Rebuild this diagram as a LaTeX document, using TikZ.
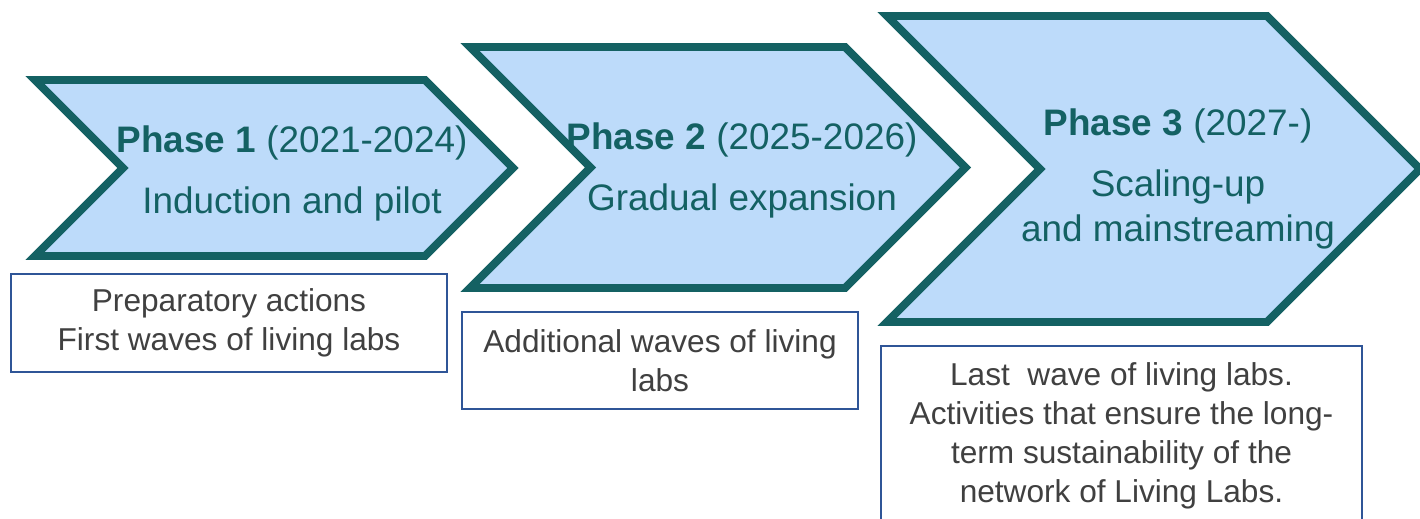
\documentclass[tikz,border=0pt]{standalone}
\usepackage{fontspec}
\setmainfont{Liberation Sans}
\usepackage{xcolor}
\usepackage{tikz}
\usetikzlibrary{positioning,calc}

\definecolor{phaseteal}{RGB}{20,97,99}
\definecolor{phasefill}{RGB}{189,219,250}
\definecolor{boxblue}{RGB}{47,85,151}
\definecolor{boxtext}{RGB}{64,64,64}

\begin{document}
\begin{tikzpicture}[
    x=0.02cm, y=-0.02cm,
    chevron/.style={draw=phaseteal, fill=phasefill, line width=4.5pt, line join=miter},
    phasetext/.style={text=phaseteal, align=center, inner sep=0pt, font=\fontsize{21}{25.6}\selectfont},
    actbox/.style={rectangle, draw=boxblue, line width=1.1pt, fill=white, align=center, text=boxtext, inner sep=2pt, font=\fontsize{18}{22.2}\selectfont}
]
\clip (0,0) rectangle (1420,518);

% phase chevrons
\draw[chevron] (35,80) -- (425,80) -- (513,168) -- (425,256) -- (35,256) -- (123,168) -- cycle;
\draw[chevron] (470,47) -- (845,47) -- (965.5,167.5) -- (845,288) -- (470,288) -- (590.5,167.5) -- cycle;
\draw[chevron] (887,16) -- (1267,16) -- (1420,169) -- (1267,322) -- (887,322) -- (1040,169) -- cycle;

\node[phasetext] (phase1) at (292,173.5) {\textbf{Phase 1} (2021-2024)\\[9pt] Induction and pilot};
\node[phasetext] (phase2) at (742,170.5) {\textbf{Phase 2} (2025-2026)\\[9pt] Gradual expansion};
\node[phasetext] (phase3) at (1178,179) {\textbf{Phase 3} (2027-)\\[9pt] Scaling-up\\ and mainstreaming};

% activities
\node[actbox, minimum width=8.72cm, minimum height=1.96cm] (act1) at (229,323) {Preparatory actions\\First waves of living labs};
\node[actbox, minimum width=7.92cm, minimum height=1.94cm] (act2) at (660,360.5) {Additional waves of living\\labs};
\node[actbox, minimum width=9.62cm, minimum height=3.58cm] (act3) at (1121.5,435.5) {Last~ wave of living labs.\\Activities that ensure the long-\\term sustainability of the\\network of Living Labs.};

\end{tikzpicture}
\end{document}
